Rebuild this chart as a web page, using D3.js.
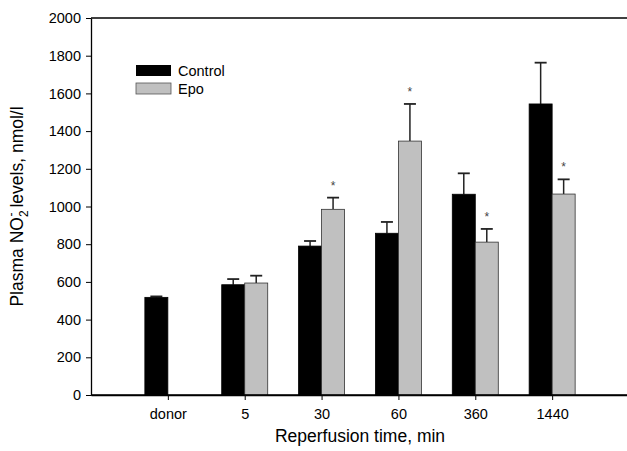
<!DOCTYPE html>
<html><head><meta charset="utf-8">
<script src="https://cdn.jsdelivr.net/npm/d3@7"></script>
<style>body{margin:0;background:#fff}svg{display:block;font-family:"Liberation Sans",Arial,sans-serif}</style>
</head><body><svg id="c" width="627" height="451"></svg>
<script>
const categories = ["donor","5","30","60","360","1440"];
const controlMean = [518, 585, 790, 858, 1065, 1544];
const controlErr  = [5, 30, 27, 60, 111, 219];
const epoMean = [null, 594, 985, 1347, 811, 1066];
const epoErr  = [null, 39, 62, 197, 70, 78];
const epoSignificant = [false, false, true, true, true, true];
const yTicks = [0,200,400,600,800,1000,1200,1400,1600,1800,2000];

const FF = "Liberation Sans, Arial, sans-serif";
const svg = d3.select("#c");
const L = 91, R = 629, T = 18, B = 395;
const x = d3.scalePoint().domain(categories).range([L, R]).padding(1);
const y = d3.scaleLinear().domain([0, 2000]).range([B, T]);
const bw = 23;

svg.append("line").attr("x1", L).attr("x2", R).attr("y1", T).attr("y2", T)
  .attr("stroke", "#000").attr("stroke-width", 1.3);

const ya = svg.append("g").attr("transform", `translate(${L},0)`)
  .call(d3.axisLeft(y).tickValues(yTicks).tickFormat(d3.format("d")).tickSize(5).tickPadding(5).tickSizeOuter(0));
ya.select(".domain").attr("stroke-width", 1.3);
ya.selectAll("text").attr("font-size", 14.5).attr("fill", "#000").attr("font-family", FF);

const xa = svg.append("g").attr("transform", `translate(0,${B})`)
  .call(d3.axisBottom(x).tickSize(5).tickPadding(9).tickSizeOuter(0));
xa.select(".domain").attr("stroke-width", 1.3);
xa.selectAll("text").attr("font-size", 14.5).attr("fill", "#000").attr("font-family", FF);

const g = svg.append("g");
function drawErr(cx, v, e) {
  g.append("line").attr("x1", cx).attr("x2", cx).attr("y1", y(v)).attr("y2", y(v + e))
    .attr("stroke", "#222").attr("stroke-width", 1.5);
  g.append("line").attr("x1", cx - 6).attr("x2", cx + 6).attr("y1", y(v + e)).attr("y2", y(v + e))
    .attr("stroke", "#222").attr("stroke-width", 1.8);
}
categories.forEach((c, i) => {
  const cx = x(c);
  drawErr(cx - bw / 2, controlMean[i], controlErr[i]);
  g.append("rect").attr("x", cx - bw).attr("y", y(controlMean[i])).attr("width", bw)
    .attr("height", y(0) - y(controlMean[i])).attr("fill", "#000").attr("stroke", "#000").attr("stroke-width", 0.8);
  if (epoMean[i] != null) {
    drawErr(cx + bw / 2, epoMean[i], epoErr[i]);
    g.append("rect").attr("x", cx).attr("y", y(epoMean[i])).attr("width", bw)
      .attr("height", y(0) - y(epoMean[i])).attr("fill", "#c0c0c0").attr("stroke", "#333").attr("stroke-width", 0.8);
    if (epoSignificant[i]) {
      g.append("text").attr("x", cx + bw / 2).attr("y", y(epoMean[i] + epoErr[i]) - 8)
        .attr("text-anchor", "middle").attr("font-size", 12).attr("fill", "#444").text("*");
    }
  }
});
svg.append("line").attr("x1", L).attr("x2", R).attr("y1", B).attr("y2", B).attr("stroke", "#000").attr("stroke-width", 1.3);

const lg = svg.append("g");
lg.append("rect").attr("x", 136).attr("y", 65).attr("width", 35).attr("height", 11).attr("fill", "#000");
lg.append("rect").attr("x", 136).attr("y", 83).attr("width", 35).attr("height", 11).attr("fill", "#c0c0c0").attr("stroke", "#555").attr("stroke-width", 0.8);
lg.append("text").attr("x", 178).attr("y", 76).attr("font-size", 14.5).text("Control");
lg.append("text").attr("x", 178).attr("y", 94).attr("font-size", 14.5).text("Epo");

svg.append("text").attr("x", (L + R) / 2).attr("y", 442).attr("text-anchor", "middle")
  .attr("font-size", 17.5).text("Reperfusion time, min");
const yt = svg.append("text").attr("transform", `translate(23,${(T + B) / 2}) rotate(-90)`)
  .attr("text-anchor", "middle").attr("font-size", 17.5);
yt.append("tspan").text("Plasma NO");
yt.append("tspan").attr("font-size", 12).attr("dy", 5).text("2");
yt.append("tspan").attr("font-size", 12).attr("dx", -6).attr("dy", -13).text("-");
yt.append("tspan").attr("dy", 8).text("  levels, nmol/l");
</script></body></html>
